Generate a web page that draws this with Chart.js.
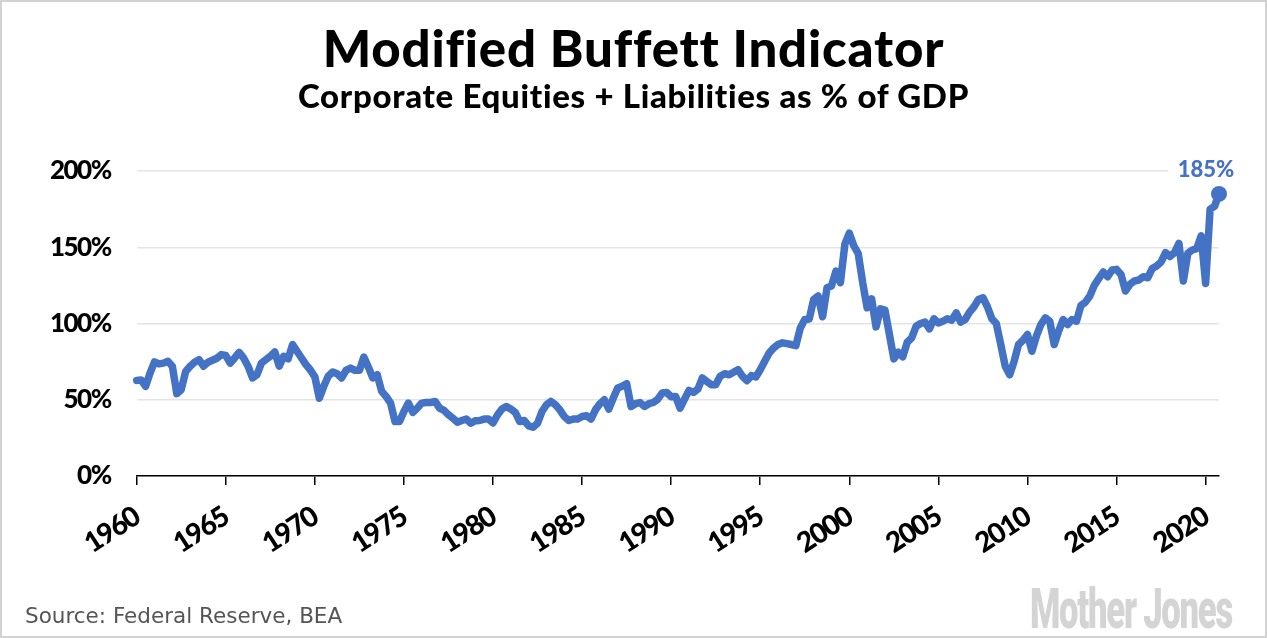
<!DOCTYPE html>
<html>
<head>
<meta charset="utf-8">
<script src="https://cdn.jsdelivr.net/npm/chart.js@4.4.1/dist/chart.umd.min.js"></script>
<style>
  html, body { margin: 0; padding: 0; background: #fff; }
  #wrap { position: relative; width: 1267px; height: 638px; overflow: hidden; }
  #frame { position: absolute; left: 0; top: 0; width: 1267px; height: 638px; box-sizing: border-box; border: 2px solid #d2d2d2; pointer-events: none; }
  canvas { position: absolute; left: 0; top: 0; }
  .txt { position: absolute; white-space: nowrap; line-height: 1; }
  #title { left: 0; width: 1267px; text-align: center; top: 17px; font: 900 51px Lato, sans-serif; letter-spacing: 0.8px; color: #000; }
  #subtitle { left: 0; width: 1267px; text-align: center; top: 75px; font: 900 33px Lato, sans-serif; letter-spacing: 0.7px; color: #000; }
  #source { left: 25px; top: 603px; font: 400 21.5px "DejaVu Sans", sans-serif; color: #555; }
  #logo { left: 1030px; top: 577px; font: 900 55px Roboto, sans-serif; color: #d4d4d4; letter-spacing: -2px; transform-origin: 0 0; transform: scaleX(0.63); }
</style>
</head>
<body>
<div id="wrap">
  <canvas id="chart" width="1267" height="638"></canvas>
  <div id="title" class="txt">Modified Buffett Indicator</div>
  <div id="subtitle" class="txt">Corporate Equities + Liabilities as % of GDP</div>
  <div id="source" class="txt">Source: Federal Reserve, BEA</div>
  <div id="logo" class="txt">Mother Jones</div>
  <div id="frame"></div>
</div>
<script>
// ── Quarterly values (% of GDP), one row per year ──
const startYear = 1960;
const v1960s = [
  62.7, 63.0, 58.8, 67.5,   74.8, 73.5, 74.0, 75.2,   72.0, 54.0, 56.6, 68.6,
  72.0, 74.6, 76.3, 72.0,   74.6, 75.9, 77.2, 79.6,   79.0, 74.0, 77.4, 81.0,
  77.4, 72.0, 64.3, 66.4,   74.0, 76.3, 78.5, 81.4,   72.0, 78.5, 76.8, 86.2,
  81.8, 77.4, 73.0, 69.5
];
const v1970s = [
  65.0, 51.0, 58.8, 65.4,   68.2, 67.0, 64.3, 69.3,   70.8, 69.3, 69.3, 78.0,
  71.5, 64.3, 66.4, 55.5,   52.2, 47.8, 35.7, 35.7,   42.3, 47.8, 41.7, 44.5,
  47.8, 48.2, 48.2, 48.9,   44.5, 43.0, 40.1, 37.9,   35.3, 36.4, 37.3, 34.6,
  36.2, 36.4, 37.3, 37.3
];
const v1980s = [
  34.8, 40.0, 43.9, 45.6,   43.9, 41.7, 35.7, 36.4,   32.9, 32.0, 34.6, 42.3,
  46.7, 48.9, 46.7, 43.4,   39.0, 36.4, 37.3, 37.3,   39.0, 39.5, 37.3, 43.4,
  47.4, 50.0, 43.9, 51.1,   57.7, 58.8, 60.5, 45.6,   47.4, 48.2, 45.6, 47.4,
  48.2, 50.4, 54.4, 54.8
];
const v1990s = [
  52.0, 52.2, 44.5, 50.4,   56.1, 54.8, 57.0, 64.3,   62.0, 59.9, 59.9, 65.4,
  67.1, 66.4, 68.0, 69.7,   65.4, 62.5, 65.8, 64.9,   69.7, 75.2, 80.7, 84.0,
  86.2, 87.3, 86.8, 86.2,   85.5, 97.1, 102.6, 103.0, 115.8, 118.0, 104.4, 123.5,
  124.6, 134.4, 126.8, 152.0
];
const v2000s = [
  159.2, 151.0, 145.8, 126.8, 110.3, 116.2, 97.8, 109.6, 108.8, 92.8, 76.8, 81.1,
  78.1, 87.7, 90.6, 98.2,   100.0, 100.9, 96.5, 103.1, 100.4, 101.5, 103.1, 102.2,
  107.0, 100.9, 102.6, 107.5, 111.0, 115.8, 116.9, 111.0, 103.1, 100.0, 86.2, 71.9,
  66.4, 75.2, 86.2, 89.0
];
const v2010s = [
  92.8, 81.8, 91.7, 99.3,   103.7, 101.5, 86.2, 95.0,  102.6, 99.3, 102.6, 101.5,
  111.8, 114.0, 118.0, 125.0, 129.4, 133.8, 130.7, 135.1, 135.5, 132.2, 121.3, 125.7,
  127.9, 128.5, 130.7, 130.0, 136.0, 137.7, 140.4, 146.5, 143.9, 146.5, 152.6, 127.9,
  146.0, 148.2, 149.1, 157.5
];
const v2020s = [126.3, 175.0, 176.8, 185.0];

const xTicks = [1960, 1965, 1970, 1975, 1980, 1985, 1990, 1995, 2000, 2005, 2010, 2015, 2020];
const yTicks = [0, 50, 100, 150, 200];
const endLabel = '185%';

const BLUE = '#4472c4';
const TICK_FONT = { family: 'Lato, sans-serif', size: 26, weight: '900' };

const values = [].concat(v1960s, v1970s, v1980s, v1990s, v2000s, v2010s, v2020s);
const points = values.map((v, i) => ({ x: startYear + i / 4, y: v }));
const lastIdx = points.length - 1;

// tighter letter spacing for the axis labels (canvas state is reset on resize, so set it per draw)
const tightText = {
  id: 'tightText',
  beforeDraw(chart) { chart.ctx.letterSpacing = '-1.5px'; }
};

// ── Label above the final point, on a white patch over the grid ──
const endLabelPlugin = {
  id: 'endLabel',
  afterDatasetsDraw(chart) {
    const pt = chart.getDatasetMeta(0).data[lastIdx];
    if (!pt) return;
    const c = chart.ctx;
    c.save();
    c.letterSpacing = '0px';
    c.font = '900 22px Lato, sans-serif';
    const w = c.measureText(endLabel).width;
    const cx = pt.x - 13, cy = pt.y - 24;
    c.fillStyle = '#fff';
    c.fillRect(cx - w / 2 - 10, cy - 13, w + 20, 26);
    c.fillStyle = BLUE;
    c.textAlign = 'center';
    c.textBaseline = 'middle';
    c.fillText(endLabel, cx, cy);
    c.restore();
  }
};

new Chart(document.getElementById('chart'), {
  type: 'line',
  data: {
    datasets: [{
      data: points,
      borderColor: BLUE,
      borderWidth: 7.5,
      borderJoinStyle: 'round',
      borderCapStyle: 'round',
      tension: 0,
      clip: false,
      pointRadius: ctx => ctx.dataIndex === lastIdx ? 8 : 0,
      pointBackgroundColor: BLUE,
      pointBorderWidth: 0,
      pointHoverRadius: 0
    }]
  },
  options: {
    responsive: false,
    animation: false,
    devicePixelRatio: 1,
    layout: { padding: { top: 171, right: 48, left: 0, bottom: 0 } },
    plugins: { legend: { display: false }, tooltip: { enabled: false } },
    scales: {
      x: {
        type: 'linear',
        min: 1960,
        max: 2020.75,
        afterBuildTicks: s => { s.ticks = xTicks.map(v => ({ value: v })); },
        afterFit: s => { s.height = 162; },
        grid: { drawOnChartArea: false, color: '#000', tickLength: 9, lineWidth: 1.5 },
        border: { color: '#000', width: 1.5 },
        ticks: {
          minRotation: 33, maxRotation: 33, padding: 15,
          color: '#000', font: { ...TICK_FONT, size: 28 },
          callback: v => String(v)
        }
      },
      y: {
        min: 0,
        max: 200,
        afterBuildTicks: s => { s.ticks = yTicks.map(v => ({ value: v })); },
        afterFit: s => { s.width = 136.7; },
        border: { display: false },
        grid: { color: '#e4e4e4', lineWidth: 1.5, drawTicks: false },
        ticks: { padding: 26, color: '#000', font: TICK_FONT, callback: v => v + '%' }
      }
    }
  },
  plugins: [tightText, endLabelPlugin]
});
</script>
</body>
</html>
